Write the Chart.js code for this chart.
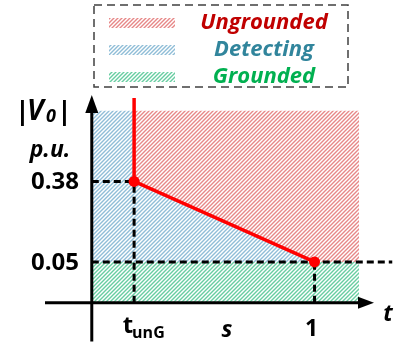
<!DOCTYPE html>
<html>
<head>
<meta charset="utf-8">
<script src="https://cdn.jsdelivr.net/npm/chart.js@4/dist/chart.umd.min.js"></script>
<style>
  html, body { margin: 0; padding: 0; background: #ffffff; }
  #wrap { width: 398px; height: 347px; }
</style>
</head>
<body>
<div id="wrap"><canvas id="chartVoltage" width="398" height="347"></canvas></div>
<script>
// Limiares de |V0| (p.u.) e instantes do criterio
const levelValues = [0.38, 0.05];
const levelLabels = ['0.38', '0.05'];
const tUnG = 0.19;
const tEnd = 1;

// Curva de decisao: sobe vertical em tunG, cai ate (1, 0.05)
const curveX = [0.19, 0.19, 1];
const curveY = [0.722, 0.38, 0.05];
const markerX = [0.19, 1];
const markerY = [0.38, 0.05];

// Faixas hachuradas
const regionTop = 0.669;
const regionRight = 1.2;
const tAxisLevel = -0.117; // nivel onde corre o eixo t
const legendItems = ['Ungrounded', 'Detecting', 'Grounded'];
const legendColors = ['#c00000', '#31859c', '#00b050'];

const FONT = '"Open Sans", "Liberation Sans", sans-serif';

function hatch(color) {
  const s = 4;
  const c = document.createElement('canvas');
  c.width = s; c.height = s;
  const g = c.getContext('2d');
  g.strokeStyle = color;
  g.lineWidth = 1.4;
  g.beginPath();
  g.moveTo(-1, s + 1); g.lineTo(s + 1, -1);
  g.moveTo(-1, 1); g.lineTo(1, -1);
  g.moveTo(s - 1, s + 1); g.lineTo(s + 1, s - 1);
  g.stroke();
  return g.createPattern(c, 'repeat');
}
const hatchRed = hatch('rgba(225, 105, 105, 0.8)');
const hatchBlue = hatch('rgba(115, 172, 205, 0.8)');
const hatchGreen = hatch('rgba(65, 192, 138, 0.8)');
const legendHatch = [hatchRed, hatchBlue, hatchGreen];

const pts = (xs, ys) => xs.map((x, i) => ({ x, y: ys[i] }));
const dashed = (data) => ({
  data, borderColor: '#000000', borderWidth: 3, borderDash: [7, 4],
  pointRadius: 0, fill: false, tension: 0, order: 3,
});

const datasets = [
  // pontos de mudanca
  { data: pts(markerX, markerY), showLine: false, pointRadius: 5.5, pointBackgroundColor: '#ff0000', pointBorderWidth: 0, order: 0 },
  // curva
  { data: pts(curveX, curveY), borderColor: '#ff0000', borderWidth: 3.5, pointRadius: 0, fill: false, order: 1 },
  // guias tracejadas
  dashed([{ x: 0, y: levelValues[0] }, { x: tUnG, y: levelValues[0] }]),
  dashed([{ x: tUnG, y: tAxisLevel }, { x: tUnG, y: levelValues[0] }]),
  dashed([{ x: 0, y: levelValues[1] }, { x: 1.35, y: levelValues[1] }]),
  dashed([{ x: tEnd, y: tAxisLevel }, { x: tEnd, y: levelValues[1] }]),
  // Ungrounded: acima da curva
  { data: [{ x: tUnG, y: levelValues[0] }, { x: tEnd, y: levelValues[1] }, { x: regionRight, y: levelValues[1] }],
    borderWidth: 0, pointRadius: 0, backgroundColor: hatchRed, fill: { value: regionTop }, order: 6 },
  // Detecting: abaixo da curva
  { data: [{ x: 0, y: regionTop }, { x: tUnG, y: regionTop }, { x: tUnG, y: levelValues[0] }, { x: tEnd, y: levelValues[1] }],
    borderWidth: 0, pointRadius: 0, backgroundColor: hatchBlue, fill: { value: levelValues[1] }, order: 6 },
  // Grounded: faixa inferior
  { data: [{ x: 0, y: levelValues[1] }, { x: regionRight, y: levelValues[1] }],
    borderWidth: 0, pointRadius: 0, backgroundColor: hatchGreen, fill: { value: tAxisLevel }, order: 6 },
];

const decorPlugin = {
  id: 'axesAndLabels',
  afterDatasetsDraw(chart) {
    const { ctx, scales: { x, y } } = chart;
    const x0 = x.getPixelForValue(0);
    const yT = y.getPixelForValue(tAxisLevel);
    ctx.save();
    ctx.strokeStyle = '#000000';
    ctx.fillStyle = '#000000';
    ctx.lineWidth = 3;
    // eixo |V0|
    ctx.beginPath();
    ctx.moveTo(x0, y.bottom);
    ctx.lineTo(x0, y.top + 14);
    ctx.stroke();
    ctx.beginPath();
    ctx.moveTo(x0, y.top); ctx.lineTo(x0 - 6.5, y.top + 18); ctx.lineTo(x0 + 6.5, y.top + 18);
    ctx.closePath(); ctx.fill();
    // eixo t
    const xTip = x.getPixelForValue(1.267);
    ctx.beginPath();
    ctx.moveTo(x.left, yT);
    ctx.lineTo(xTip - 12, yT);
    ctx.stroke();
    ctx.beginPath();
    ctx.moveTo(xTip, yT); ctx.lineTo(xTip - 16, yT - 6); ctx.lineTo(xTip - 16, yT + 6);
    ctx.closePath(); ctx.fill();

    // rotulos do eixo vertical
    ctx.textBaseline = 'middle';
    ctx.textAlign = 'right';
    ctx.font = `bold 24px ${FONT}`;
    levelValues.forEach((v, i) => ctx.fillText(levelLabels[i], 79, y.getPixelForValue(v) + 1));
    ctx.textAlign = 'left';
    ctx.font = `bold 27px ${FONT}`;
    ctx.fillText('|', 15, 112);
    ctx.font = `italic bold 28px ${FONT}`;
    ctx.fillText('V', 27, 112);
    ctx.font = `italic bold 18px ${FONT}`;
    ctx.fillText('0', 46, 117);
    ctx.font = `bold 27px ${FONT}`;
    ctx.fillText('|', 57, 112);
    ctx.textAlign = 'center';
    ctx.font = `italic bold 23px ${FONT}`;
    ctx.fillText('p.u.', 50, 150);

    // rotulos do eixo t
    ctx.font = `bold 24px ${FONT}`;
    ctx.textAlign = 'right';
    ctx.fillText('t', x.getPixelForValue(tUnG) - 1, 326);
    ctx.textAlign = 'left';
    ctx.font = `bold 16px ${FONT}`;
    ctx.fillText('unG', x.getPixelForValue(tUnG) - 2, 333);
    ctx.textAlign = 'center';
    ctx.font = `bold 23px ${FONT}`;
    ctx.fillText('1', x.getPixelForValue(tEnd) - 3, 329);
    ctx.font = `italic bold 23px ${FONT}`;
    ctx.fillText('s', 227, 330);
    ctx.fillText('t', 388, 314);

    // legenda tracejada
    ctx.lineWidth = 1.5;
    ctx.strokeStyle = '#404040';
    ctx.setLineDash([8, 5]);
    ctx.strokeRect(94, 5, 254, 82);
    ctx.setLineDash([]);
    legendItems.forEach((label, i) => {
      const cy = 23 + i * 27;
      ctx.fillStyle = legendHatch[i];
      ctx.fillRect(109, cy - 5, 66, 10);
      ctx.fillStyle = legendColors[i];
      ctx.font = `italic bold 22px ${FONT}`;
      ctx.textAlign = 'center';
      ctx.fillText(label, 264, cy);
    });
    ctx.restore();
  },
};

new Chart(document.getElementById('chartVoltage'), {
  type: 'scatter',
  data: { datasets },
  options: {
    responsive: false,
    animation: false,
    showLine: true,
    layout: { padding: { left: 45, right: 2.25, top: 95, bottom: 4 } },
    plugins: { legend: { display: false }, tooltip: { enabled: false } },
    scales: {
      x: { type: 'linear', min: -0.21, max: 1.35, display: false },
      y: { type: 'linear', min: -0.276, max: 0.734, display: false },
    },
  },
  plugins: [decorPlugin],
});
</script>
</body>
</html>
